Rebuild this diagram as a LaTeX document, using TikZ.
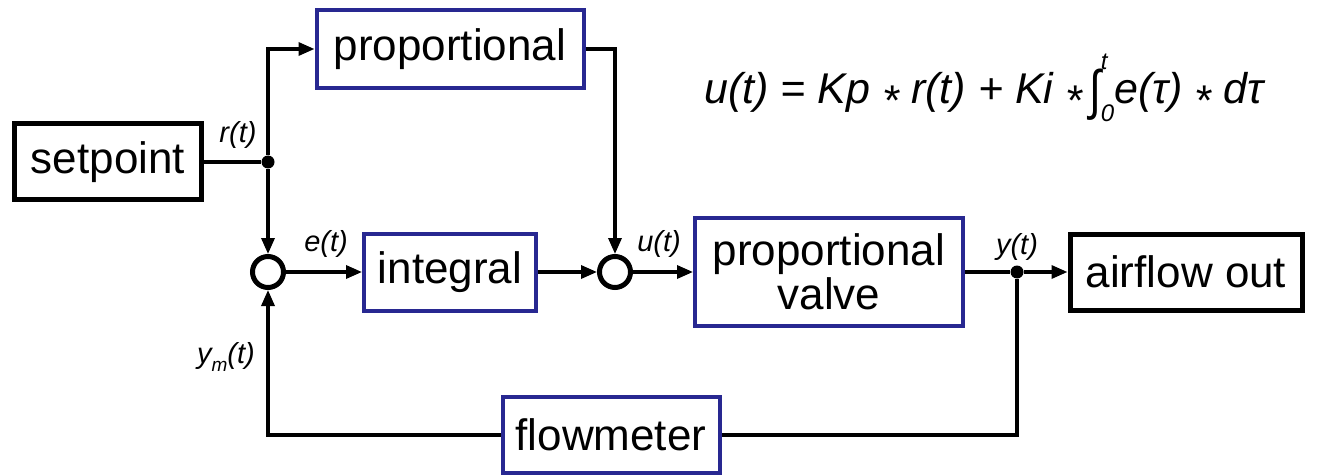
\documentclass[tikz,border=0pt]{standalone}
\usepackage{fontspec}
\setmainfont{Liberation Sans}
\usetikzlibrary{arrows.meta}
\definecolor{boxblue}{RGB}{40,40,145}
\newcommand{\myast}{\raisebox{-0.28em}{*}}
\begin{document}
\begin{tikzpicture}[x=1pt,y=-1pt,
  blk/.style={draw=boxblue, line width=4pt, fill=white, inner sep=0pt, font=\fontsize{44}{44}\selectfont, align=center},
  bbox/.style={draw=black, line width=5pt, fill=white, inner sep=0pt, font=\fontsize{44}{44}\selectfont, align=center},
  sumc/.style={circle, draw, line width=5pt, minimum size=31pt, inner sep=0pt},
  dotn/.style={circle, fill, minimum size=13pt, inner sep=0pt},
  conn/.style={line width=3.3pt},
  arr/.style={conn, -{Triangle[length=16pt,width=13pt]}},
  sig/.style={font=\fontsize{29}{29}\selectfont\itshape, inner sep=0pt},
  formula/.style={font=\fontsize{43}{43}\selectfont\itshape, inner sep=0pt}
]
\useasboundingbox (0,0) rectangle (1318,476);

\node[bbox, minimum width=187pt, minimum height=76pt] (set) at (108,162) {setpoint};
\node[blk, minimum width=267pt, minimum height=78pt] (prop) at (450,49) {proportional};
\node[blk, minimum width=172pt, minimum height=77pt] (int) at (450,272) {integral};
\node[blk, minimum width=268pt, minimum height=108pt] (valve) at (829,272) {proportional\\valve};
\node[bbox, minimum width=232pt, minimum height=76pt] (air) at (1186,272) {airflow out};
\node[blk, minimum width=217pt, minimum height=76pt] (flow) at (611,435) {flowmeter};
\node[sumc] (s1) at (268,272) {};
\node[sumc] (s2) at (615,272) {};
\node[dotn] (d1) at (268,162) {};
\node[dotn] (d2) at (1017,272) {};

\draw[conn] (set.east) -- (d1);
\draw[arr] (d1) |- (prop.west);
\draw[arr] (d1) -- (s1.north);
\draw[arr] (prop.east) -| (s2.north);
\draw[arr] (s1.east) -- (int.west);
\draw[arr] (int.east) -- (s2.west);
\draw[arr] (s2.east) -- (valve.west);
\draw[conn] (valve.east) -- (d2);
\draw[arr] (d2) -- (air.west);
\draw[conn] (d2) |- (flow.east);
\draw[arr] (flow.west) -| (s1.south);

\node[sig] (lr) at (238,135) {r(t)};
\node[sig] (le) at (326,244) {e(t)};
\node[sig] (lu) at (659,244) {u(t)};
\node[sig] (ly) at (1017,247) {y(t)};
\node[sig] (lym) at (226,357) {y\raisebox{-0.3em}{\fontsize{19}{19}\selectfont m}(t)};

\node[formula] (eq) at (984,88) {u(t) = Kp \myast{} r(t) + Ki \myast{}\,\raisebox{-0.12em}{\scalebox{1}[1.25]{∫}}\rlap{\raisebox{0.78em}{\fontsize{24}{24}\selectfont t}}\raisebox{-0.42em}{\fontsize{24}{24}\selectfont 0}e(τ) \myast{} dτ};
\end{tikzpicture}
\end{document}
